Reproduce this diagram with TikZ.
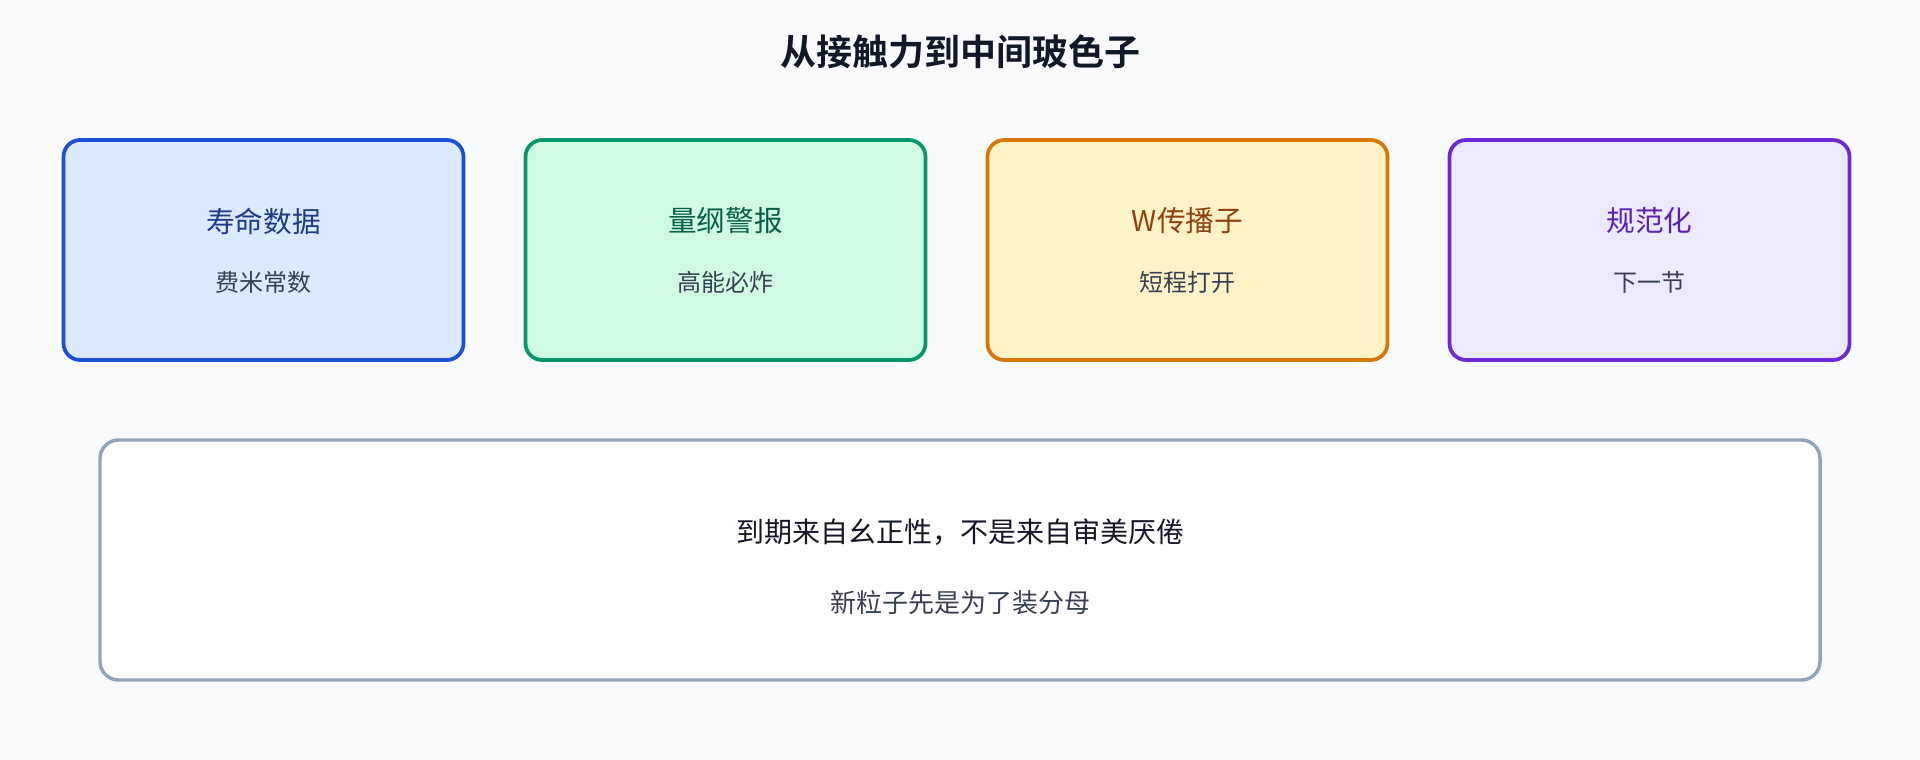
\documentclass[tikz,border=0pt]{standalone}
\usepackage{fontspec}
\setmainfont{Noto Sans CJK SC}
\newfontfamily\cjkbold{Noto Sans CJK SC Bold}
\definecolor{bg}{HTML}{F8FAFC}
\definecolor{bfillA}{HTML}{DBEAFE}\definecolor{bdrawA}{HTML}{1D4ED8}\definecolor{btextA}{HTML}{1E3A8A}
\definecolor{bfillB}{HTML}{D1FAE5}\definecolor{bdrawB}{HTML}{059669}\definecolor{btextB}{HTML}{065F46}
\definecolor{bfillC}{HTML}{FEF3C7}\definecolor{bdrawC}{HTML}{D97706}\definecolor{btextC}{HTML}{92400E}
\definecolor{bfillD}{HTML}{EDE9FE}\definecolor{bdrawD}{HTML}{6D28D9}\definecolor{btextD}{HTML}{5B21B6}
\definecolor{subtext}{HTML}{374151}
\definecolor{darktext}{HTML}{111827}
\definecolor{noteborder}{HTML}{94A3B8}
\tikzset{
  cardbox/.style={draw, line width=2.8pt, rounded corners=12.5pt, minimum width=300pt, minimum height=165pt, inner sep=0pt},
  cardtitle/.style={font=\fontsize{21.5}{24}\selectfont, inner sep=0pt, anchor=center},
  cardsub/.style={font=\fontsize{18}{21}\selectfont, text=subtext, inner sep=0pt, anchor=center},
}
\begin{document}
\begin{tikzpicture}[x=0.75pt,y=-0.75pt]
\fill[bg] (0,0) rectangle (1920,760);
\useasboundingbox (0,0) rectangle (1920,760);
\node[font=\cjkbold\fontsize{27}{30}\selectfont, text=darktext, inner sep=0pt] (title) at (960,52) {从接触力到中间玻色子};

\node[cardbox, fill=bfillA, draw=bdrawA] (c1) at (263.5,250) {};
\node[cardbox, fill=bfillB, draw=bdrawB] (c2) at (725.5,250) {};
\node[cardbox, fill=bfillC, draw=bdrawC] (c3) at (1187.5,250) {};
\node[cardbox, fill=bfillD, draw=bdrawD] (c4) at (1649.5,250) {};

\node[cardtitle, text=btextA] (t1) at (263.5,221) {寿命数据};
\node[cardsub] (s1) at (263.5,282) {费米常数};
\node[cardtitle, text=btextB] (t2) at (725.5,221) {量纲警报};
\node[cardsub] (s2) at (725.5,282) {高能必炸};
\node[cardtitle, text=btextC] (t3) at (1187.5,221) {W传播子};
\node[cardsub] (s3) at (1187.5,282) {短程打开};
\node[cardtitle, text=btextD] (t4) at (1649.5,221) {规范化};
\node[cardsub] (s4) at (1649.5,282) {下一节};

\node[draw=noteborder, fill=white, line width=2.6pt, rounded corners=14pt, minimum width=1290pt, minimum height=180pt, inner sep=0pt] (note) at (960,560) {};
\node[font=\fontsize{21}{24}\selectfont, text=darktext, inner sep=0pt] (n1) at (960,532) {到期来自幺正性，不是来自审美厌倦};
\node[font=\fontsize{19.5}{22}\selectfont, text=subtext, inner sep=0pt] (n2) at (960,603) {新粒子先是为了装分母};
\end{tikzpicture}
\end{document}
